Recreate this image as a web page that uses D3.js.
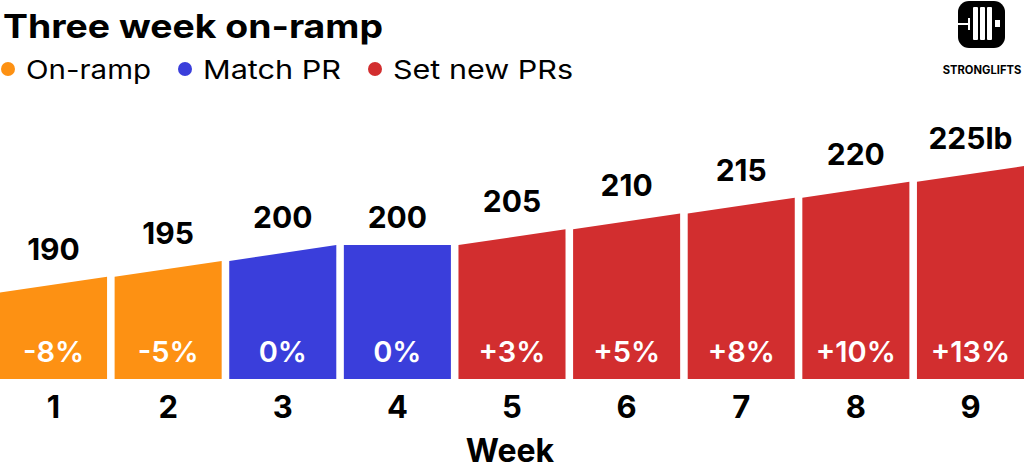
<!DOCTYPE html>
<html>
<head>
<meta charset="utf-8">
<script src="https://cdn.jsdelivr.net/npm/d3@7"></script>
<style>
  html, body { margin: 0; padding: 0; background: #fff; }
  svg { display: block; }
  text { font-family: Inter, "Liberation Sans", Arial, sans-serif; }
</style>
</head>
<body>
<svg id="chart" width="1024" height="470"></svg>
<script>
const weeks = ["1", "2", "3", "4", "5", "6", "7", "8", "9"];
const weights = [190, 195, 200, 200, 205, 210, 215, 220, 225];
const startWeight = 185;
const changes = ["-8%", "-5%", "0%", "0%", "+3%", "+5%", "+8%", "+10%", "+13%"];
const phases = ["On-ramp", "On-ramp", "Match PR", "Match PR", "Set new PRs", "Set new PRs", "Set new PRs", "Set new PRs", "Set new PRs"];
const legendLabels = ["On-ramp", "Match PR", "Set new PRs"];
const legendColors = ["#fd9113", "#3a3edb", "#d22e2f"];
const titleText = "Three week on-ramp";
const axisTitle = "Week";
const unit = "lb";

const svg = d3.select("#chart");
const W = 1024;
const bottom = 379;

const color = d3.scaleOrdinal().domain(legendLabels).range(legendColors);
const x = d3.scaleBand().domain(weeks).range([0, W]).paddingInner(0.066).paddingOuter(0);
const y = d3.scaleLinear().domain([157.7, 225]).range([bottom, 166]);

// Title
svg.append("text")
  .attr("x", 3).attr("y", 38)
  .attr("font-size", 33).attr("font-weight", 700)
  .attr("textLength", 380).attr("lengthAdjust", "spacingAndGlyphs")
  .attr("fill", "#000")
  .text(titleText);

// Legend
const legendX = [8, 185, 375];
const legendW = [125, 138, 180];
const lg = svg.append("g");
legendLabels.forEach((l, i) => {
  lg.append("circle").attr("cx", legendX[i]).attr("cy", 69).attr("r", 7).attr("fill", color(l));
  lg.append("text").attr("x", legendX[i] + 18).attr("y", 79)
    .attr("font-size", 26).attr("font-weight", 400)
    .attr("textLength", legendW[i]).attr("lengthAdjust", "spacingAndGlyphs")
    .attr("fill", "#000").text(l);
});

// Bars
const prev = weights.map((w, i) => i === 0 ? startWeight : weights[i - 1]);
const bars = svg.append("g");
weeks.forEach((wk, i) => {
  const x0 = x(wk), x1 = x(wk) + x.bandwidth();
  const path = d3.path();
  path.moveTo(x0, y.range()[0]);
  path.lineTo(x0, y(prev[i]));
  path.lineTo(x1, y(weights[i]));
  path.lineTo(x1, y.range()[0]);
  path.closePath();
  bars.append("path").attr("d", path.toString()).attr("fill", color(phases[i]));

  const cx = x0 + x.bandwidth() / 2;
  bars.append("text").attr("x", cx).attr("y", y(weights[i]) - 17)
    .attr("text-anchor", "middle").attr("font-size", 30).attr("font-weight", 700)
    .attr("fill", "#000")
    .text(weights[i] + (i === weeks.length - 1 ? unit : ""));

  bars.append("text").attr("x", cx).attr("y", 362)
    .attr("text-anchor", "middle").attr("font-size", 29).attr("font-weight", 600)
    .attr("fill", "#fff").text(changes[i]);
});

// X axis labels
const xAxis = d3.axisBottom(x).tickSize(0).tickPadding(0);
const ax = svg.append("g").attr("transform", `translate(0, ${bottom})`).call(xAxis);
ax.select(".domain").remove();
ax.selectAll("text")
  .attr("dy", null).attr("y", 39)
  .attr("font-size", 31).attr("font-weight", 700)
  .attr("font-family", "Inter, 'Liberation Sans', Arial, sans-serif")
  .attr("fill", "#000");

svg.append("text").attr("x", 510).attr("y", 462)
  .attr("text-anchor", "middle").attr("font-size", 32).attr("font-weight", 700)
  .attr("fill", "#000").text(axisTitle);

// Logo
const logo = svg.append("g");
logo.append("rect").attr("x", 958).attr("y", 1).attr("width", 47).attr("height", 47).attr("rx", 11).attr("fill", "#000");
logo.append("rect").attr("x", 958).attr("y", 23).attr("width", 11).attr("height", 2).attr("fill", "#fff");
logo.append("rect").attr("x", 968).attr("y", 18).attr("width", 2).attr("height", 12).attr("fill", "#fff");
[973, 980, 987].forEach(px => {
  logo.append("rect").attr("x", px).attr("y", 7).attr("width", 5).attr("height", 33).attr("rx", 1).attr("fill", "#fff");
});
logo.append("rect").attr("x", 995).attr("y", 20).attr("width", 5).attr("height", 7).attr("fill", "#fff");
logo.append("text").attr("x", 982).attr("y", 74)
  .attr("text-anchor", "middle")
  .attr("font-size", 11.2).attr("font-weight", 700)
  .attr("font-family", "'DejaVu Sans Condensed', 'DejaVu Sans', sans-serif")
  .attr("fill", "#000").text("STRONGLIFTS");
</script>
</body>
</html>
